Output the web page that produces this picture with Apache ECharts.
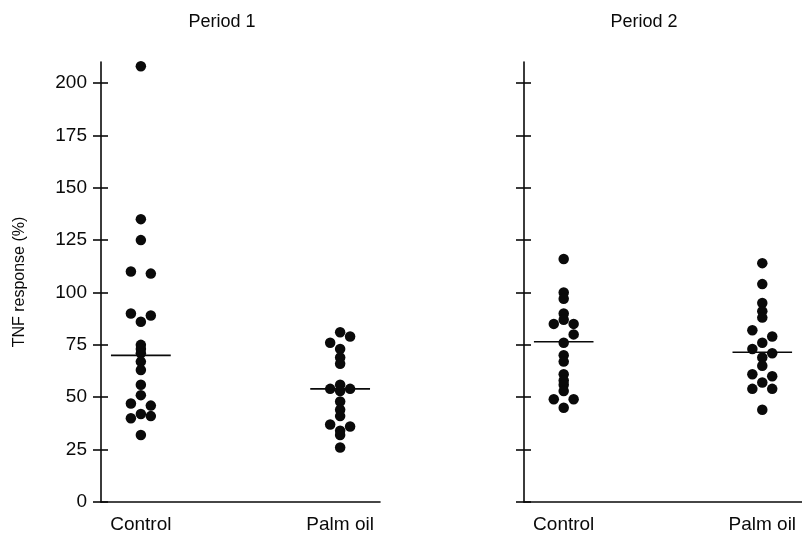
<!DOCTYPE html>
<html><head><meta charset="utf-8">
<script src="https://cdn.jsdelivr.net/npm/echarts@6/dist/echarts.min.js"></script>
<style>html,body{margin:0;padding:0;background:#fff}#c{width:802px;height:534px}</style>
</head><body><div id="c"></div>
<script>
const categories = ['Control', 'Palm oil'];
const panelTitles = ['Period 1', 'Period 2'];
const yTicks = [0, 25, 50, 75, 100, 125, 150, 175, 200];
const yName = 'TNF response (%)';

// Period 1
const p1Control    = [208, 135, 125, 110, 109, 90, 89, 86, 75, 73, 71, 67, 63, 56, 51, 47, 46, 42, 40, 41, 32];
const p1ControlCol = [  0,   0,   0,  -1,   1, -1,  1,  0,  0,  0,  0,  0,  0,  0,  0, -1,  1,  0, -1,  1,  0];
const p1Palm       = [81, 79, 76, 73, 69, 66, 56, 54, 54, 53, 48, 44, 41, 37, 36, 34, 32, 26];
const p1PalmCol    = [ 0,  1, -1,  0,  0,  0,  0, -1,  1,  0,  0,  0,  0, -1,  1,  0,  0,  0];
// Period 2
const p2Control    = [116, 100, 97, 90, 87, 85, 85, 80, 76, 70, 67, 61, 58, 56, 53, 49, 49, 45];
const p2ControlCol = [  0,   0,  0,  0,  0, -1,  1,  1,  0,  0,  0,  0,  0,  0,  0, -1,  1,  0];
const p2Palm       = [114, 104, 95, 91, 88, 82, 79, 76, 73, 71, 69, 65, 61, 60, 57, 54, 54, 44];
const p2PalmCol    = [  0,   0,  0,  0,  0, -1,  1,  0, -1,  1,  0,  0, -1,  1,  0, -1,  1,  0];
// group means (horizontal bars)
const p1Means = [70, 54];
const p2Means = [76.5, 71.5];

const INK = '#0a0a0a';
const FONT = 'Liberation Sans, Arial, sans-serif';
const colStep = 0.05;
const meanHalf = 0.15;

function pts(vals, cols, pos) {
  return vals.map((v, i) => [pos + cols[i] * colStep, v]);
}

const panels = [
  { groups: [[p1Control, p1ControlCol], [p1Palm, p1PalmCol]], means: p1Means },
  { groups: [[p2Control, p2ControlCol], [p2Palm, p2PalmCol]], means: p2Means }
];

const grids = [
  { left: 101, top: 62, width: 279, bottom: 32 },
  { left: 524, top: 62, width: 278, bottom: 32 }
];

const xAxes = [], yAxes = [], series = [];
panels.forEach((p, gi) => {
  xAxes.push({
    type: 'value', gridIndex: gi, min: 0.8, max: 2.2,
    axisLine: { show: true, onZero: false, lineStyle: { color: INK, width: 1.6 } },
    axisTick: { show: false }, splitLine: { show: false },
    axisLabel: {
      customValues: [1, 2], color: INK, fontSize: 19, fontFamily: FONT, margin: 13,
      formatter: v => categories[Math.round(v) - 1]
    }
  });
  const base = {
    type: 'value', gridIndex: gi, min: 0, max: 210, interval: 25,
    position: 'left', splitLine: { show: false }
  };
  yAxes.push(Object.assign({}, base, {
    axisLine: { show: true, onZero: false, lineStyle: { color: INK, width: 1.6 } },
    axisTick: { show: true, length: 8, customValues: yTicks, lineStyle: { color: INK, width: 1.6 } },
    axisLabel: {
      show: gi === 0, customValues: yTicks, color: INK, fontSize: 19, fontFamily: FONT, margin: 14
    },
    name: gi === 0 ? yName : '', nameLocation: 'middle', nameRotate: 90, nameGap: 73,
    nameTextStyle: { color: INK, fontSize: 16, fontFamily: FONT }
  }));
  yAxes.push(Object.assign({}, base, {
    axisLine: { show: false, onZero: false },
    axisTick: { show: true, inside: true, length: 7, customValues: yTicks, lineStyle: { color: INK, width: 1.6 } },
    axisLabel: { show: false }
  }));
  p.groups.forEach((g, ci) => {
    series.push({
      type: 'scatter', xAxisIndex: gi, yAxisIndex: gi * 2,
      data: pts(g[0], g[1], ci + 1), symbolSize: 10.5,
      itemStyle: { color: INK, opacity: 1 }, silent: true
    });
    series.push({
      type: 'line', xAxisIndex: gi, yAxisIndex: gi * 2, symbol: 'none', silent: true,
      data: [[ci + 1 - meanHalf, p.means[ci]], [ci + 1 + meanHalf, p.means[ci]]],
      lineStyle: { color: INK, width: 1.6 }
    });
  });
});

const chart = echarts.init(document.getElementById('c'), null, { renderer: 'canvas' });
chart.setOption({
  backgroundColor: '#fff',
  animation: false,
  grid: grids,
  xAxis: xAxes,
  yAxis: yAxes,
  series: series,
  graphic: [
    { type: 'text', x: 222, y: 22, style: { text: panelTitles[0], fill: INK, fontSize: 18, fontFamily: FONT, textAlign: 'center', textVerticalAlign: 'middle' } },
    { type: 'text', x: 644, y: 22, style: { text: panelTitles[1], fill: INK, fontSize: 18, fontFamily: FONT, textAlign: 'center', textVerticalAlign: 'middle' } }
  ]
});
</script>
</body></html>
